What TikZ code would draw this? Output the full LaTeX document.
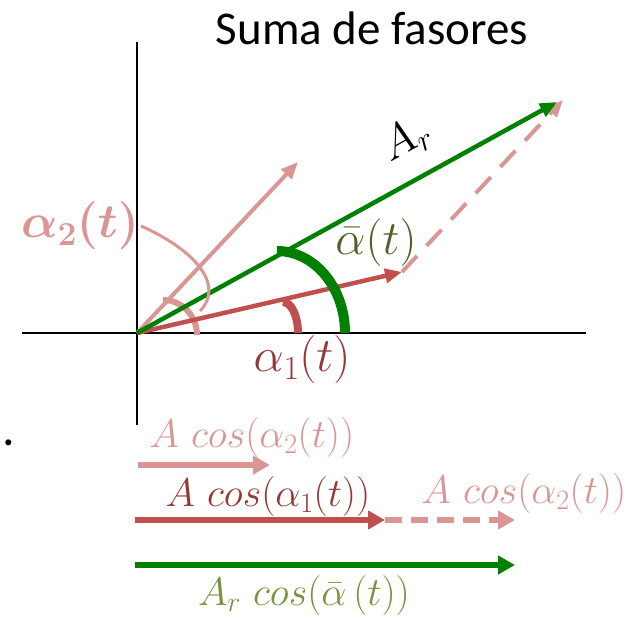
\RequirePackage{fix-cm}
\documentclass[tikz,border=0pt]{standalone}
\usepackage{amsmath}
\usepackage{fontspec}
\usetikzlibrary{arrows.meta}
\newfontfamily\titlefont{Carlito}
\definecolor{fzgreen}{RGB}{0,128,0}
\definecolor{fzpink}{RGB}{217,150,148}
\definecolor{fzred}{RGB}{192,80,77}
\definecolor{fzdarkred}{RGB}{149,55,53}
\definecolor{fzolive}{RGB}{79,98,40}
\definecolor{fzlolive}{RGB}{119,147,60}

\begin{document}
\begin{tikzpicture}[x=1pt,y=-1pt,
    axis/.style={draw=black,line width=1.6pt},
    phasor/.style={line width=4.5pt,-{Triangle[length=17pt,width=14pt]}},
    flat/.style={line width=6pt,-{Triangle[length=17pt,width=18pt]}},
    anglearc/.style={line width=#1},
    biglbl/.style={font=\fontsize{48}{54}\selectfont,inner sep=0pt},
    smalllbl/.style={font=\fontsize{40}{46}\selectfont,inner sep=0pt}]
  \useasboundingbox (0,0) rectangle (638,617);
  % axes
  \coordinate (O) at (137,333);
  \coordinate (xl) at (22,333);
  \coordinate (xr) at (586,333);
  \coordinate (yt) at (137,42);
  \coordinate (yb) at (137,425);
  \draw[axis] (xl) -- (xr);
  \draw[axis] (yt) -- (yb);
  \node[font=\titlefont\fontsize{47}{52}\selectfont] (title) at (372,28) {Suma de fasores};
  \node[font=\titlefont\fontsize{50}{50}\selectfont,inner sep=0pt] (dot) at (9,443) {.};

  % phasors
  \coordinate (a2) at (298,162);
  \coordinate (a1) at (402,272);
  \coordinate (ar) at (557,102);
  \coordinate (sum) at (563,100);
  \draw[phasor,fzpink,line width=4pt] (O) -- (a2);
  \draw[fzpink,anglearc=6pt] (197,335) arc[start angle=0,end angle=90,x radius=34pt,y radius=35pt];
  \draw[phasor,fzred] (O) -- (a1);
  \draw[phasor,fzpink,line width=4pt,dash pattern=on 22pt off 14pt] (a1) -- (sum);
  \draw[phasor,fzgreen] (O) -- (ar);
  \draw[fzred,anglearc=8pt] (298,333) arc[start angle=0,end angle=90,x radius=15pt,y radius=31pt];
  \draw[fzgreen,anglearc=10pt] (345,333) arc[start angle=0,end angle=90,x radius=68pt,y radius=82pt];

  % labels
  \node[biglbl,text=fzpink] (a2lbl) at (80,226) {$\boldsymbol{\alpha_2(t)}$};
  \coordinate (l2s) at (141,226);
  \coordinate (l2e) at (200,311);
  \draw[fzpink,line width=3pt] (l2s) .. controls (195,250) and (225,285) .. (l2e);
  \node[biglbl,text=fzolive] (ablbl) at (376,243) {$\bar{\alpha}(t)$};
  \node[biglbl,text=fzdarkred] (a1lbl) at (302,360) {$\alpha_1(t)$};
  \node[font=\fontsize{46}{50}\selectfont,rotate=29] (arlbl) at (406,140) {$A_r$};

  % projections
  \coordinate (p2s) at (138,465);
  \coordinate (p2e) at (270,465);
  \coordinate (p1s) at (135,520);
  \coordinate (p1e) at (385,520);
  \coordinate (pde) at (515,520);
  \coordinate (prs) at (135,565);
  \coordinate (pre) at (515,565);
  \draw[flat,fzpink] (p2s) -- (p2e);
  \draw[flat,fzpink,dash pattern=on 17pt off 9pt] (p1e) -- (pde);
  \draw[flat,fzred] (p1s) -- (p1e);
  \draw[flat,fzgreen] (prs) -- (pre);
  \node[smalllbl,text=fzpink] (c2top) at (252,438) {$A\ cos(\alpha_2(t))$};
  \node[smalllbl,text=fzdarkred] (c1) at (268,497) {$A\ cos(\alpha_1(t))$};
  \node[smalllbl,text=fzpink] (c2right) at (524,494) {$A\ cos(\alpha_2(t))$};
  \node[smalllbl,text=fzlolive] (crlbl) at (304,596) {$A_r\ cos(\bar{\alpha}\,(t))$};
\end{tikzpicture}
\end{document}
